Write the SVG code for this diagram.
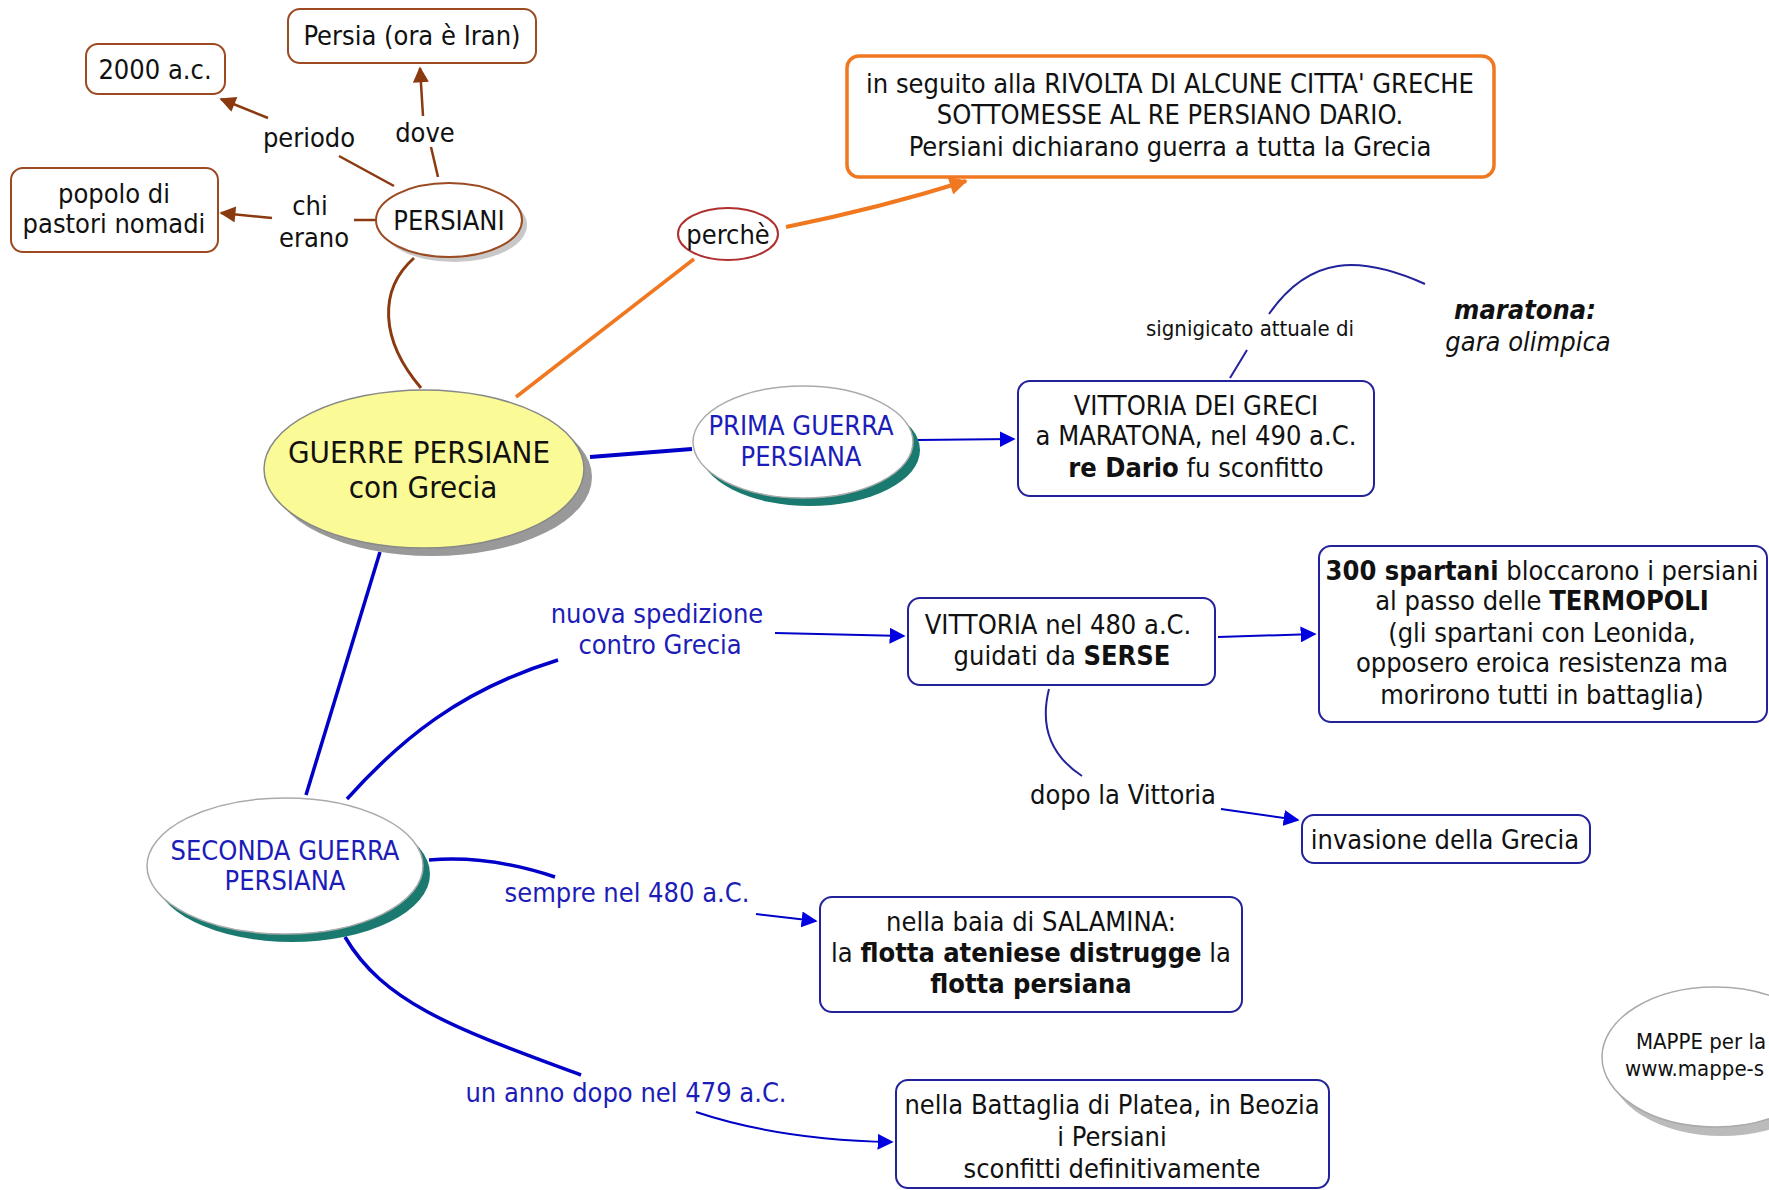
<svg xmlns="http://www.w3.org/2000/svg" width="1769" height="1190" viewBox="0 0 1769 1190">
<style>
text{font-family:"DejaVu Sans","Verdana",sans-serif;font-stretch:condensed;font-size:27px;fill:#111;text-anchor:middle}
.blue{fill:#1c1cb8}
.small{font-size:22px}
.bbox{fill:#fff;stroke:#22229a;stroke-width:2}
.brbox{fill:#fff;stroke:#9b4a22;stroke-width:2}
.br{stroke:#8b3a10;fill:none;stroke-width:2.5}
.bl{stroke:#0000c8;fill:none}
.b{font-weight:bold}
</style>
<defs>
<marker id="abr" viewBox="0 0 10 10" refX="9" refY="5" markerWidth="18" markerHeight="16" markerUnits="userSpaceOnUse" orient="auto"><path d="M0,0 L10,5 L0,10 z" fill="#8b3a10"/></marker>
<marker id="abl" viewBox="0 0 10 10" refX="9" refY="5" markerWidth="16" markerHeight="16" markerUnits="userSpaceOnUse" orient="auto"><path d="M0,0 L10,5 L0,10 z" fill="#0000e0"/></marker>
<marker id="aor" viewBox="0 0 10 10" refX="9" refY="5" markerWidth="20" markerHeight="18" markerUnits="userSpaceOnUse" orient="auto"><path d="M0,0 L10,5 L0,10 z" fill="#f07820"/></marker>
</defs>
<rect width="1769" height="1190" fill="#fff"/>

<g id="connectors">
<path class="br" d="M394,186 L339,156"/>
<path class="br" d="M268,118 L221,99" marker-end="url(#abr)"/>
<path class="br" d="M438,177 L431,147"/>
<path class="br" d="M423,116 L420,68" marker-end="url(#abr)"/>
<path class="br" d="M376,220 L354,220"/>
<path class="br" d="M272,218 L221,213" marker-end="url(#abr)"/>
<path class="br" d="M414,258 C378,290 380,340 421,388" style="stroke-width:3"/>
<path d="M516,397 L694,259" stroke="#f07820" stroke-width="3.5" fill="none"/>
<path d="M786,227 Q880,208 966,181" stroke="#f07820" stroke-width="4" fill="none" marker-end="url(#aor)"/>
<path class="bl" d="M590,457 L692,449" stroke-width="4"/>
<path class="bl" d="M917,440 L1014,439" stroke-width="2" marker-end="url(#abl)"/>
<path d="M1230,378 L1247,350" stroke="#22229a" stroke-width="2" fill="none"/>
<path d="M1269,314 C1310,255 1360,255 1425,284" stroke="#22229a" stroke-width="2" fill="none"/>
<path class="bl" d="M380,552 L306,795" stroke-width="3.5"/>
<path class="bl" d="M347,799 C400,740 460,690 558,660" stroke-width="3.5"/>
<path class="bl" d="M775,633 L904,636" stroke-width="2" marker-end="url(#abl)"/>
<path class="bl" d="M1218,637 L1315,634" stroke-width="2" marker-end="url(#abl)"/>
<path d="M1049,689 C1040,725 1050,755 1082,776" stroke="#22229a" stroke-width="2" fill="none"/>
<path class="bl" d="M1221,809 L1298,820" stroke-width="2" marker-end="url(#abl)"/>
<path class="bl" d="M429,860 Q490,855 555,877" stroke-width="3.5"/>
<path class="bl" d="M756,914 L816,921" stroke-width="2" marker-end="url(#abl)"/>
<path class="bl" d="M345,937 C385,1005 460,1030 581,1075" stroke-width="3.5"/>
<path class="bl" d="M696,1112 Q780,1140 892,1142" stroke-width="2" marker-end="url(#abl)"/>
</g>

<g id="n-2000">
<rect class="brbox" x="86" y="44" width="139" height="50" rx="12"/>
<text x="155" y="79">2000 a.c.</text>
</g>
<g id="n-persia">
<rect class="brbox" x="288" y="9" width="248" height="54" rx="12"/>
<text x="412" y="45">Persia (ora è Iran)</text>
</g>
<g id="n-popolo">
<rect class="brbox" x="11" y="168" width="207" height="84" rx="12"/>
<text x="114" y="203">popolo di</text>
<text x="114" y="233">pastori nomadi</text>
</g>
<g id="l-periodo"><text x="309" y="147">periodo</text></g>
<g id="l-dove"><text x="425" y="142">dove</text></g>
<g id="l-chi"><text x="310" y="215">chi</text><text x="314" y="247">erano</text></g>
<g id="n-persiani">
<ellipse cx="454" cy="225" rx="73" ry="37" fill="#c8c8c8"/>
<ellipse cx="449" cy="220" rx="73" ry="37" fill="#fff" stroke="#9b4a22" stroke-width="2"/>
<text x="449" y="230">PERSIANI</text>
</g>
<g id="n-perche">
<ellipse cx="728" cy="234" rx="50" ry="26" fill="#fff" stroke="#b03030" stroke-width="2"/>
<text x="728" y="244">perchè</text>
</g>
<g id="n-rivolta">
<rect x="847" y="56" width="647" height="121" rx="12" fill="#fff" stroke="#f07820" stroke-width="3.5"/>
<text x="1170" y="93">in seguito alla RIVOLTA DI ALCUNE CITTA' GRECHE</text>
<text x="1170" y="124">SOTTOMESSE AL RE PERSIANO DARIO.</text>
<text x="1170" y="156">Persiani dichiarano guerra a tutta la Grecia</text>
</g>
<g id="n-guerre">
<ellipse cx="432" cy="477" rx="160" ry="79" fill="#999"/>
<ellipse cx="424" cy="469" rx="160" ry="79" fill="#fafa96" stroke="#888" stroke-width="1.5"/>
<text x="419" y="463" style="font-size:31px">GUERRE PERSIANE</text>
<text x="423" y="498" style="font-size:31px">con Grecia</text>
</g>
<g id="n-prima">
<ellipse cx="810" cy="450" rx="110" ry="56" fill="#1a7a70"/>
<ellipse cx="803" cy="442" rx="110" ry="56" fill="#fff" stroke="#aaa" stroke-width="1.5"/>
<text class="blue" x="801" y="435">PRIMA GUERRA</text>
<text class="blue" x="801" y="466">PERSIANA</text>
</g>
<g id="n-maratona-vitt">
<rect class="bbox" x="1018" y="381" width="356" height="115" rx="12"/>
<text x="1196" y="415">VITTORIA DEI GRECI</text>
<text x="1196" y="445">a MARATONA, nel 490 a.C.</text>
<text x="1196" y="477"><tspan class="b">re Dario</tspan> fu sconfitto</text>
</g>
<g id="l-signif"><text class="small" x="1250" y="336">signigicato attuale di</text></g>
<g id="n-maratona">
<text x="1525" y="319" style="font-weight:bold;font-style:italic">maratona:</text>
<text x="1528" y="351" style="font-style:italic">gara olimpica</text>
</g>
<g id="l-nuova">
<text class="blue" x="657" y="623">nuova spedizione</text>
<text class="blue" x="660" y="654">contro Grecia</text>
</g>
<g id="n-vitt480">
<rect class="bbox" x="908" y="598" width="307" height="87" rx="12"/>
<text x="1058" y="634">VITTORIA nel 480 a.C.</text>
<text x="1062" y="665">guidati da <tspan class="b">SERSE</tspan></text>
</g>
<g id="n-spartani">
<rect class="bbox" x="1319" y="546" width="448" height="176" rx="12"/>
<text x="1542" y="580"><tspan class="b">300 spartani</tspan> bloccarono i persiani</text>
<text x="1542" y="610">al passo delle <tspan class="b">TERMOPOLI</tspan></text>
<text x="1542" y="642">(gli spartani con Leonida,</text>
<text x="1542" y="672">opposero eroica resistenza ma</text>
<text x="1542" y="704">morirono tutti in battaglia)</text>
</g>
<g id="l-dopo"><text x="1123" y="804">dopo la Vittoria</text></g>
<g id="n-invasione">
<rect class="bbox" x="1302" y="815" width="288" height="48" rx="12"/>
<text x="1445" y="849">invasione della Grecia</text>
</g>
<g id="n-seconda">
<ellipse cx="292" cy="874" rx="138" ry="68" fill="#1a7a70"/>
<ellipse cx="285" cy="866" rx="138" ry="68" fill="#fff" stroke="#aaa" stroke-width="1.5"/>
<text class="blue" x="285" y="860">SECONDA GUERRA</text>
<text class="blue" x="285" y="890">PERSIANA</text>
</g>
<g id="l-sempre"><text class="blue" x="627" y="902">sempre nel 480 a.C.</text></g>
<g id="n-salamina">
<rect class="bbox" x="820" y="897" width="422" height="115" rx="12"/>
<text x="1031" y="931">nella baia di SALAMINA:</text>
<text x="1031" y="962">la <tspan class="b">flotta ateniese distrugge</tspan> la</text>
<text x="1031" y="993"><tspan class="b">flotta persiana</tspan></text>
</g>
<g id="l-unanno"><text class="blue" x="626" y="1102">un anno dopo nel 479 a.C.</text></g>
<g id="n-platea">
<rect class="bbox" x="896" y="1080" width="433" height="108" rx="12"/>
<text x="1112" y="1114">nella Battaglia di Platea, in Beozia</text>
<text x="1112" y="1146">i Persiani</text>
<text x="1112" y="1178">sconfitti definitivamente</text>
</g>
<g id="n-mappe">
<ellipse cx="1722" cy="1066" rx="113" ry="70" fill="#bbb"/>
<ellipse cx="1715" cy="1057" rx="113" ry="70" fill="#fff" stroke="#aaa" stroke-width="1.5"/>
<text class="small" x="1636" y="1049" style="text-anchor:start">MAPPE per la</text>
<text class="small" x="1625" y="1076" style="text-anchor:start">www.mappe-s</text>
</g>
</svg>
